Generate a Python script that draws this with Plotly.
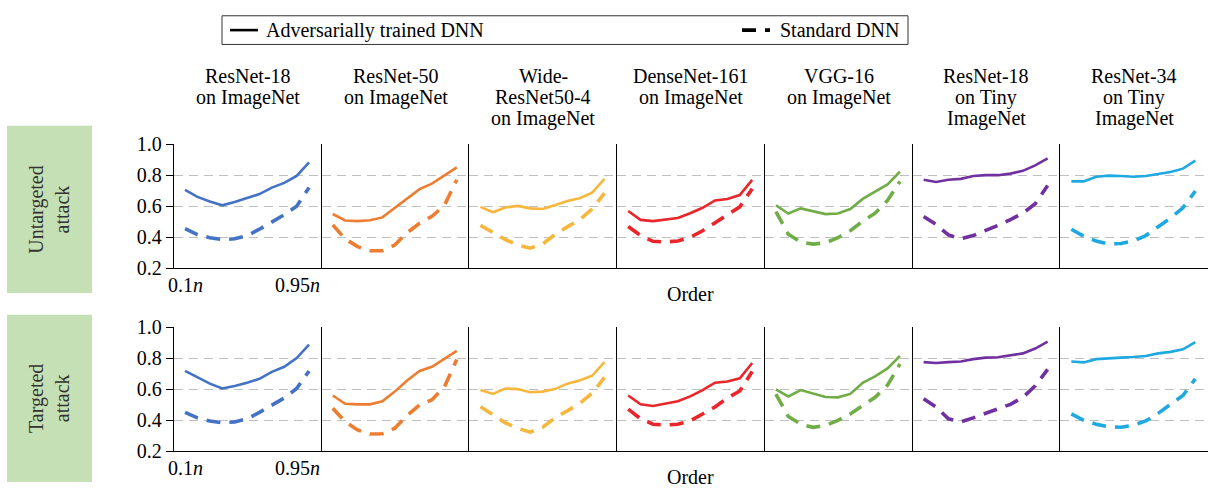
import plotly.graph_objects as go

W, H = 1208, 495
FONT = "Liberation Serif"
FS = 20

model_titles = [
    ["ResNet-18", "on ImageNet"],
    ["ResNet-50", "on ImageNet"],
    ["Wide-", "ResNet50-4", "on ImageNet"],
    ["DenseNet-161", "on ImageNet"],
    ["VGG-16", "on ImageNet"],
    ["ResNet-18", "on Tiny", "ImageNet"],
    ["ResNet-34", "on Tiny", "ImageNet"],
]
colors = ["#4472C4", "#ED7D31", "#F6B73C", "#E8262B", "#70AD47", "#7030A0", "#1FA9E1"]
rows = ["Untargeted<br>attack", "Targeted<br>attack"]
orders = ["0.1n", "0.2n", "0.3n", "0.4n", "0.5n", "0.6n", "0.7n", "0.8n", "0.85n", "0.9n", "0.95n"]
first_tick, last_tick = "0.1<i>n</i>", "0.95<i>n</i>"
y_ticks = [0.2, 0.4, 0.6, 0.8, 1.0]
legend_names = ["Adversarially trained DNN", "Standard DNN"]

untargeted_adv = [
    [0.705, 0.66, 0.63, 0.606, 0.627, 0.65, 0.678, 0.72, 0.75, 0.795, 0.883],
    [0.55, 0.508, 0.504, 0.51, 0.528, 0.59, 0.65, 0.71, 0.745, 0.795, 0.85],
    [0.596, 0.561, 0.592, 0.602, 0.586, 0.582, 0.606, 0.633, 0.651, 0.688, 0.776],
    [0.569, 0.512, 0.504, 0.514, 0.524, 0.555, 0.59, 0.637, 0.647, 0.672, 0.77],
    [0.606, 0.553, 0.586, 0.569, 0.549, 0.553, 0.582, 0.647, 0.692, 0.74, 0.822],
    [0.77, 0.756, 0.77, 0.776, 0.795, 0.80, 0.80, 0.81, 0.828, 0.863, 0.908],
    [0.76, 0.76, 0.79, 0.797, 0.795, 0.79, 0.795, 0.807, 0.82, 0.842, 0.893],
]
untargeted_std = [
    [0.456, 0.417, 0.397, 0.385, 0.39, 0.41, 0.452, 0.50, 0.545, 0.60, 0.72],
    [0.48, 0.39, 0.34, 0.313, 0.313, 0.35, 0.43, 0.49, 0.535, 0.605, 0.77],
    [0.477, 0.432, 0.385, 0.35, 0.33, 0.356, 0.417, 0.467, 0.514, 0.582, 0.684],
    [0.469, 0.411, 0.374, 0.37, 0.376, 0.40, 0.442, 0.493, 0.545, 0.596, 0.713],
    [0.565, 0.42, 0.37, 0.356, 0.364, 0.397, 0.442, 0.504, 0.555, 0.637, 0.76],
    [0.534, 0.483, 0.415, 0.39, 0.411, 0.442, 0.477, 0.514, 0.555, 0.616, 0.733],
    [0.452, 0.407, 0.376, 0.356, 0.36, 0.376, 0.411, 0.467, 0.524, 0.59, 0.698],
]
targeted_adv = [
    [0.717, 0.676, 0.635, 0.604, 0.62, 0.641, 0.666, 0.711, 0.744, 0.80, 0.887],
    [0.559, 0.506, 0.502, 0.502, 0.522, 0.584, 0.655, 0.717, 0.744, 0.793, 0.846],
    [0.594, 0.569, 0.604, 0.60, 0.58, 0.584, 0.60, 0.635, 0.655, 0.686, 0.774],
    [0.559, 0.502, 0.491, 0.506, 0.522, 0.553, 0.594, 0.641, 0.649, 0.67, 0.768],
    [0.598, 0.553, 0.594, 0.573, 0.549, 0.547, 0.569, 0.641, 0.682, 0.733, 0.813],
    [0.774, 0.768, 0.774, 0.778, 0.793, 0.803, 0.805, 0.819, 0.83, 0.861, 0.906],
    [0.778, 0.772, 0.793, 0.80, 0.803, 0.807, 0.813, 0.83, 0.84, 0.856, 0.902],
]
targeted_std = [
    [0.45, 0.415, 0.395, 0.383, 0.389, 0.409, 0.45, 0.497, 0.543, 0.604, 0.717],
    [0.477, 0.389, 0.337, 0.311, 0.313, 0.348, 0.43, 0.497, 0.532, 0.614, 0.79],
    [0.487, 0.436, 0.383, 0.348, 0.323, 0.354, 0.415, 0.46, 0.508, 0.573, 0.676],
    [0.471, 0.409, 0.374, 0.368, 0.374, 0.395, 0.44, 0.485, 0.543, 0.588, 0.713],
    [0.567, 0.424, 0.374, 0.354, 0.366, 0.399, 0.44, 0.497, 0.547, 0.625, 0.762],
    [0.538, 0.485, 0.409, 0.389, 0.415, 0.444, 0.471, 0.502, 0.547, 0.621, 0.727],
    [0.44, 0.399, 0.374, 0.358, 0.354, 0.368, 0.395, 0.444, 0.502, 0.559, 0.666],
]
data_rows = [(untargeted_adv, untargeted_std), (targeted_adv, targeted_std)]

# layout geometry (pixels)
left_px, right_px = 174, 1208
pw = (right_px - left_px) / 7
row_px = [(139.3, 269.3), (330.7, 460.7)]
DASH = "14px,9px"
SOLID_W, DASH_W = 2.6, 3.6


def px(xp):
    return xp / W


def py(yp):
    return 1 - yp / H


fig = go.Figure()
layout = dict(
    width=W, height=H, margin=dict(l=0, r=0, t=0, b=0),
    paper_bgcolor="white", plot_bgcolor="white",
    font=dict(family=FONT, size=FS, color="black"),
    showlegend=False,
)
annotations = []
shapes = []
tfont = dict(family=FONT, size=FS, color="black")

for r in range(2):
    adv, std = data_rows[r]
    top, bot = row_px[r]
    ydom = [py(bot), py(top)]
    for c in range(7):
        k = r * 7 + c + 1
        xa = "x" if k == 1 else f"x{k}"
        ya = "y" if k == 1 else f"y{k}"
        x0 = px(left_px + c * pw)
        x1 = min(px(left_px + (c + 1) * pw), 1)
        layout["xaxis" if k == 1 else f"xaxis{k}"] = dict(
            domain=[x0, x1], anchor=ya, type="category",
            categoryorder="array", categoryarray=orders,
            range=[-0.89, 11.02], showgrid=False, zeroline=False,
            showticklabels=False, ticks="", showline=True,
            linecolor="black", linewidth=1.3,
        )
        layout["yaxis" if k == 1 else f"yaxis{k}"] = dict(
            domain=ydom, anchor=xa, range=[0.2, 1.0], tickvals=y_ticks,
            ticktext=[f"{v:.1f}" for v in y_ticks],
            showgrid=True, gridcolor="#BFBFBF", griddash="9px,6px", gridwidth=1.2,
            zeroline=False, showline=True, linecolor="black", linewidth=1.3,
            showticklabels=(c == 0), ticks="outside" if c == 0 else "",
            ticklen=7, tickcolor="black", tickwidth=1.3,
            tickfont=tfont,
        )
        fig.add_trace(go.Scatter(
            x=orders, y=adv[c], xaxis=xa, yaxis=ya, mode="lines",
            line=dict(color=colors[c], width=SOLID_W), hoverinfo="skip",
        ))
        fig.add_trace(go.Scatter(
            x=orders, y=std[c], xaxis=xa, yaxis=ya, mode="lines",
            line=dict(color=colors[c], width=DASH_W, dash=DASH), hoverinfo="skip",
        ))
        if c == 0:
            annotations.append(dict(
                x=0, xref=xa, xanchor="center", y=0, yref=f"{ya} domain",
                yanchor="top", yshift=-4, text=first_tick, showarrow=False,
                font=tfont,
            ))
            annotations.append(dict(
                x=1, xref=f"{xa} domain", xanchor="right", y=0,
                yref=f"{ya} domain", yanchor="top", yshift=-4,
                text=last_tick, showarrow=False, font=tfont,
            ))
        if c == 3:
            annotations.append(dict(
                x=px((left_px + right_px) / 2), xref="paper", xanchor="center",
                y=0, yref=f"{ya} domain", yanchor="top", yshift=-13,
                text="Order", showarrow=False, font=tfont,
            ))
        if r == 0:
            for li, line in enumerate(model_titles[c]):
                annotations.append(dict(
                    x=(x0 + x1) / 2, xref="paper", xanchor="center",
                    y=py(68 + 22.5 * li), yref="paper", yanchor="middle",
                    text=line, showarrow=False, font=tfont,
                ))
    # row label box
    by0, by1 = (120, 295) if r == 0 else (318, 493)
    shapes.append(dict(
        type="rect", xref="paper", yref="paper", x0=px(7), x1=px(92),
        y0=py(by1), y1=py(by0), fillcolor="#C5E0B4",
        line=dict(width=0), layer="below",
    ))
    annotations.append(dict(
        x=px(49.5), xref="paper", xanchor="center",
        y=py((by0 + by1) / 2), yref="paper", yanchor="middle",
        text=rows[r], textangle=-90, showarrow=False,
        font=dict(family=FONT, size=FS, color="#333333"),
    ))

# legend (drawn manually)
shapes.append(dict(
    type="rect", xref="paper", yref="paper", x0=px(222), x1=px(908),
    y0=py(35), y1=py(5), line=dict(color="#333333", width=1),
    fillcolor="white",
))
shapes.append(dict(
    type="line", xref="paper", yref="paper", x0=px(230), x1=px(258),
    y0=py(20), y1=py(20), line=dict(color="black", width=SOLID_W),
))
shapes.append(dict(
    type="line", xref="paper", yref="paper", x0=px(742), x1=px(770),
    y0=py(20), y1=py(20), line=dict(color="black", width=DASH_W, dash=DASH),
))
annotations.append(dict(
    x=px(264), y=py(20), xref="paper", yref="paper", xanchor="left",
    yanchor="middle", text=legend_names[0], showarrow=False, font=tfont,
))
annotations.append(dict(
    x=px(778), y=py(20), xref="paper", yref="paper", xanchor="left",
    yanchor="middle", text=legend_names[1], showarrow=False, font=tfont,
))

layout["annotations"] = annotations
layout["shapes"] = shapes
fig.update_layout(**layout)
fig.write_html("out.html")
